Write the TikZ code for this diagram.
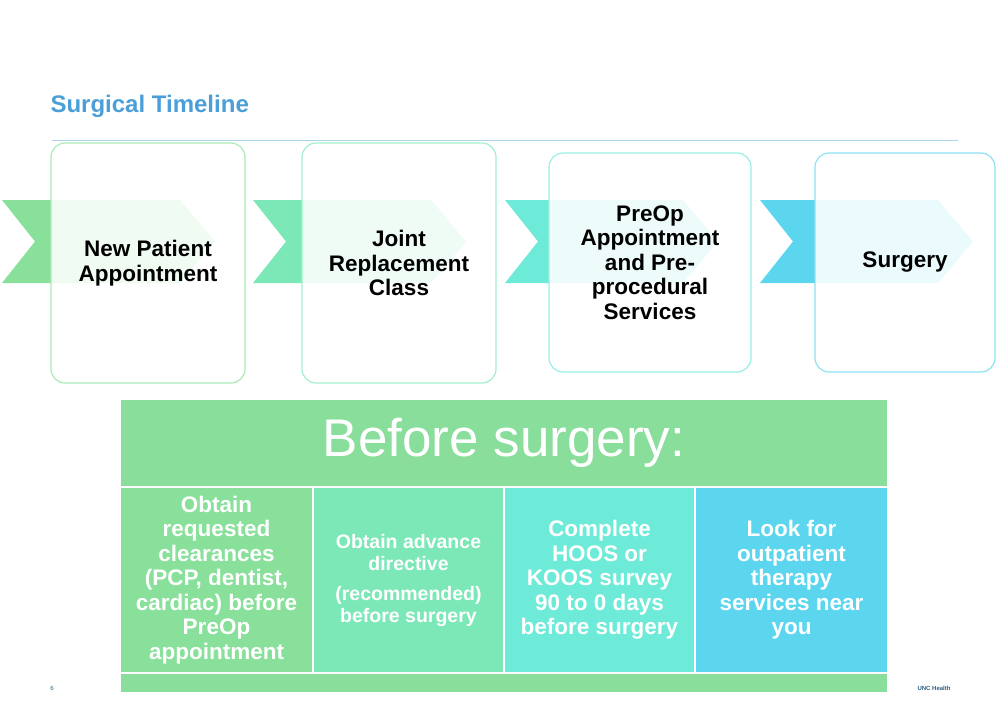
\documentclass[tikz,border=0pt]{standalone}
\usepackage{fontspec}
\setmainfont{Liberation Sans}
\usepackage{tikz}
\usetikzlibrary{positioning}
\definecolor{cgreen}{HTML}{88E09A}
\definecolor{cmint}{HTML}{7CE8B8}
\definecolor{caqua}{HTML}{6EEAD8}
\definecolor{csky}{HTML}{5CD6EE}
\definecolor{ctitle}{HTML}{4A9FD8}
\definecolor{cband}{HTML}{88DE9A}
\begin{document}
\begin{tikzpicture}[x=1pt,y=-1pt,
		chev/.style={fill=#1},
		step/.style={draw=#1!70,line width=1.2pt,fill=white,fill opacity=0.88,text opacity=1,
			rounded corners=14pt,align=center,font=\bfseries\fontsize{22.5}{24.5}\selectfont},
		cell/.style={fill=#1,text=white,align=center,inner sep=0pt,
			font=\bfseries\fontsize{22.5}{24.5}\selectfont}]
		\useasboundingbox (0,0) rectangle (1008,720);
		\node[anchor=west,text=ctitle,font=\bfseries\fontsize{24}{28}\selectfont] (title) at (47,106) {Surgical Timeline};
		\coordinate (rl) at (52,140);
		\coordinate (rr) at (958,140);
		\draw[ctitle!45,line width=0.8pt] (rl) -- (rr);
		% chevrons behind the steps
		\foreach \x/\c in {2/cgreen,253/cmint,505/caqua,760/csky}
			\fill[chev=\c] (\x,200) -- ++(178,0) -- ++(35,41.5) -- ++(-35,41.5) -- ++(-178,0) -- ++(33,-41.5) -- cycle;
		\node[step=cgreen,minimum width=194,minimum height=240] (s1) at (148,263) {New Patient\\Appointment};
		\node[step=cmint,minimum width=194,minimum height=240] (s2) at (399,263) {Joint\\Replacement\\Class};
		\node[step=caqua,minimum width=202,minimum height=219] (s3) at (650,262.5) {PreOp\\Appointment\\and Pre-\\procedural\\Services};
		\node[step=csky,minimum width=180,minimum height=219] (s4) at (905,262.5) {Surgery};
		% before surgery table
		\node[fill=cband,text=white,minimum width=766,minimum height=86,inner sep=0pt,
			font=\fontsize{53}{56}\selectfont] (head) at (504,443) {Before surgery:};
		\node[cell=cgreen,minimum width=191,minimum height=184] (c1) at (216.5,580) {Obtain\\requested\\clearances\\(PCP, dentist,\\cardiac) before\\PreOp\\appointment};
		\node[cell=cmint,minimum width=189,minimum height=184,font=\bfseries\fontsize{19.5}{22}\selectfont] (c2) at (408.5,580) {Obtain advance\\directive\\[8pt](recommended)\\before surgery};
		\node[cell=caqua,minimum width=189,minimum height=184] (c3) at (599.5,580) {Complete\\HOOS or\\KOOS survey\\90 to 0 days\\before surgery};
		\node[cell=csky,minimum width=191,minimum height=184] (c4) at (791.5,580) {Look for\\outpatient\\therapy\\services near\\you};
		\node[fill=cband,minimum width=766,minimum height=18,inner sep=0pt] (foot) at (504,683) {};
		\node[text=ctitle!60!black,font=\fontsize{6}{7}\selectfont] (pg) at (52,688) {6};
		\node[text=ctitle!60!black,font=\bfseries\fontsize{6}{7}\selectfont] (org) at (934,688) {UNC Health};
\end{tikzpicture}
\end{document}
